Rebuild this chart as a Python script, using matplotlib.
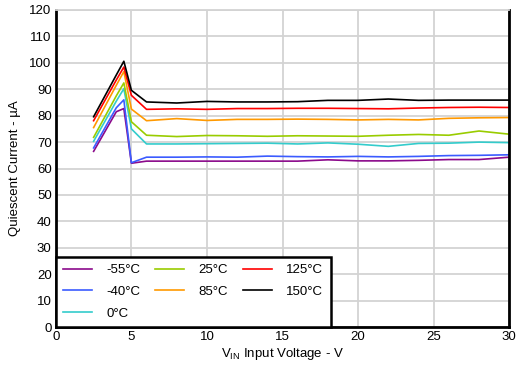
import matplotlib.pyplot as plt

plt.rcParams['font.family'] = ['Liberation Sans', 'DejaVu Sans']

vin = [2.5, 4, 4.5, 5, 6, 8, 10, 12, 14, 16, 18, 20, 22, 24, 26, 28, 30]

temps = ['-55°C', '-40°C', '0°C', '25°C', '85°C', '125°C', '150°C']
colors = ['#8b0a8b', '#3b5bff', '#33cccc', '#99cc00', '#ff9900', '#ff0000', '#000000']

iq_m55 = [66.5, 81.5, 82.7, 62.0, 62.8, 62.8, 62.8, 62.8, 62.8, 62.8, 63.3, 62.9, 62.9, 63.1, 63.4, 63.4, 64.3]
iq_m40 = [67.8, 83.0, 86.0, 62.2, 64.3, 64.3, 64.4, 64.3, 64.7, 64.5, 64.4, 64.6, 64.4, 64.6, 64.9, 65.0, 65.2]
iq_0 = [70.3, 85.5, 90.2, 75.0, 69.3, 69.3, 69.4, 69.5, 69.6, 69.3, 69.7, 69.2, 68.4, 69.5, 69.6, 70.0, 69.8]
iq_25 = [71.8, 87.5, 92.4, 77.7, 72.6, 72.1, 72.5, 72.4, 72.2, 72.4, 72.3, 72.2, 72.6, 72.9, 72.6, 74.2, 73.0]
iq_85 = [75.5, 91.5, 96.7, 82.5, 78.1, 78.9, 78.2, 78.6, 78.6, 78.7, 78.6, 78.4, 78.6, 78.4, 79.0, 79.2, 79.3]
iq_125 = [78.1, 93.5, 98.4, 87.7, 82.4, 82.6, 82.4, 82.7, 82.7, 82.8, 82.8, 82.7, 82.6, 82.9, 83.1, 83.2, 83.1]
iq_150 = [79.6, 95.4, 100.6, 89.6, 85.2, 84.8, 85.4, 85.2, 85.2, 85.3, 85.8, 85.8, 86.3, 85.8, 85.9, 85.9, 85.9]

series = [iq_m55, iq_m40, iq_0, iq_25, iq_85, iq_125, iq_150]

fig = plt.figure(figsize=(5.17, 3.70), dpi=100)
ax = fig.add_axes([0.108, 0.116, 0.877, 0.857])

for label, col, vals in zip(temps, colors, series):
    ax.plot(vin, vals, color=col, linewidth=1.2, label=label)

ax.set_xlim(0, 30)
ax.set_ylim(0, 120)
ax.set_xticks(range(0, 31, 5))
ax.set_yticks(range(0, 121, 10))
ax.tick_params(length=0, labelsize=9.5, pad=3)
ax.grid(True, color='#d3d3d3', linewidth=1.3)
ax.set_axisbelow(True)

for side in ['left', 'bottom', 'right']:
    ax.spines[side].set_linewidth(2)
    ax.spines[side].set_color('black')
ax.spines['top'].set_color('#d3d3d3')
ax.spines['top'].set_linewidth(1.3)

ax.set_xlabel('V$_{\\mathregular{IN}}$ Input Voltage - V', fontsize=9.5, labelpad=2)
ax.set_ylabel('Quiescent Current - µA', fontsize=9.5, labelpad=6)

leg = ax.legend(loc='lower left', ncol=3, fontsize=9.5, frameon=True, fancybox=False,
                borderaxespad=0, handlelength=2.2, handletextpad=1.1,
                columnspacing=1.1, labelspacing=0.72, borderpad=0.55)
leg.get_frame().set_edgecolor('black')
leg.get_frame().set_linewidth(1.8)
leg.get_frame().set_alpha(1)

fig.savefig('out.png', dpi=100)
